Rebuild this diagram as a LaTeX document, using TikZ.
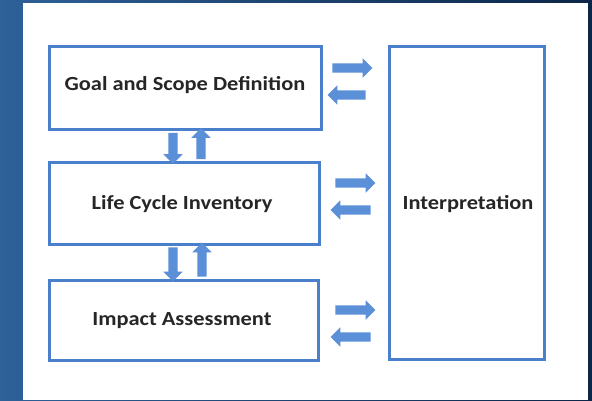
\documentclass[tikz,border=0pt]{standalone}
\usepackage{fontspec}
\setmainfont{Carlito}
\newfontfamily\boxfont[FakeStretch=1.12]{Carlito}
\usetikzlibrary{shapes.arrows}

\definecolor{seaL}{HTML}{2E6199}
\definecolor{seaR}{HTML}{0C2648}
\definecolor{frameblue}{HTML}{4A7FCB}
\definecolor{arrowblue}{HTML}{5B8FD8}

\tikzset{
  stage/.style={draw=frameblue, line width=3pt, fill=white},
  label/.style={font=\boxfont\bfseries\fontsize{20}{23}\selectfont, text=black!85},
  blockarrow/.style={single arrow, fill=arrowblue, draw=none, inner sep=0pt,
    minimum width=19pt, single arrow head extend=5pt,
    single arrow tip angle=90, text height=4.5pt, text depth=4.5pt},
  vblockarrow/.style={blockarrow, minimum width=18pt, text width=9pt,
    text height=0pt, text depth=0pt},
}

\begin{document}
\begin{tikzpicture}[x=1pt, y=-1pt]
  \useasboundingbox (0,0) rectangle (592,400);

  % sea backdrop and the white sheet on top of it
  \shade[left color=seaL, right color=seaR] (0,0) rectangle (592,400);
  \fill[white] (23,3) rectangle (588,400);

  % the three phases on the left and the interpretation column
  \draw[stage] (49,46) rectangle (321,129);
  \draw[stage] (49,162) rectangle (319,244);
  \draw[stage] (49,280) rectangle (318,360);
  \draw[stage] (389,46) rectangle (544,359);

  \node[label] (goal) at (185,85) {Goal and Scope Definition};
  \node[label] (lci)  at (182,204) {Life Cycle Inventory};
  \node[label] (lcia) at (182,321) {Impact Assessment};
  \node[label] (interp) at (468,204) {Interpretation};

  % exchange with interpretation
  \node[blockarrow, minimum height=40pt] (g2i) at (350,68) {};
  \node[blockarrow, minimum height=38pt, shape border rotate=180] (i2g) at (349,95) {};
  \node[blockarrow, minimum height=40pt] (l2i) at (353,183) {};
  \node[blockarrow, minimum height=40pt, shape border rotate=180] (i2l) at (353,210) {};
  \node[blockarrow, minimum height=40pt] (a2i) at (353,310) {};
  \node[blockarrow, minimum height=40pt, shape border rotate=180] (i2a) at (353,337) {};

  % flow between the phases
  \node[vblockarrow, minimum height=31pt, shape border rotate=270] (g2l) at (173,146) {};
  \node[vblockarrow, minimum height=31pt, shape border rotate=90] (l2g) at (201,146) {};
  \node[vblockarrow, minimum height=34pt, shape border rotate=270] (l2a) at (173,262) {};
  \node[vblockarrow, minimum height=34pt, shape border rotate=90] (a2l) at (202,262) {};
\end{tikzpicture}
\end{document}
